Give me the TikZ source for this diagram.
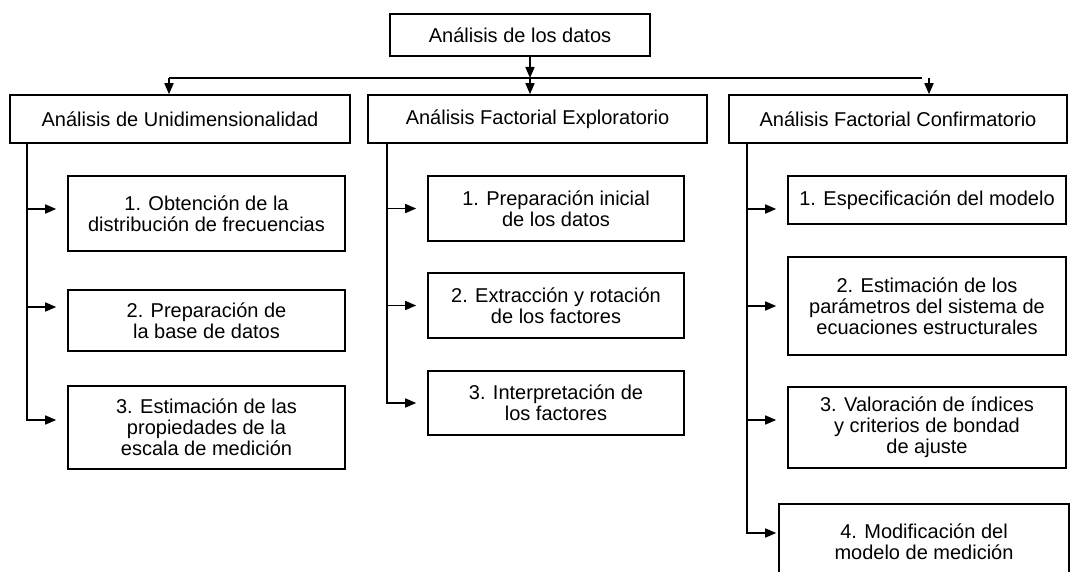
\documentclass[tikz,border=0pt]{standalone}
\usepackage{fontspec}
\setmainfont{Liberation Sans}
\usetikzlibrary{positioning}
\usetikzlibrary{arrows.meta}
\usetikzlibrary{calc}
\tikzset{>={Triangle[length=11pt,width=9pt]}}
\tikzset{caja/.style={draw, line width=1.6pt, align=center, inner sep=2pt, font=\fontsize{20}{21}\selectfont}}
\tikzset{cabeza/.style={caja, minimum height=48pt}}
\tikzset{colU/.style={caja, minimum width=277pt}}
\tikzset{colE/.style={caja, minimum width=256pt}}
\tikzset{colC/.style={caja, minimum width=278pt}}
\tikzset{flecha/.style={->, line width=1.6pt}}
\tikzset{linea/.style={line width=1.6pt}}

\begin{document}
\begin{tikzpicture}[x=1pt,y=-1pt]
        \useasboundingbox (0,0) rectangle (1071,572);

        \node[caja, minimum width=260pt, minimum height=42pt] (datos) at (520,35) {Análisis de los datos};

        \node[cabeza, minimum width=340pt] (U) at (180,119) {Análisis de Unidimensionalidad};
        \node[cabeza, minimum width=339pt] (E) at (537.5,119) {Análisis Factorial Exploratorio};
        \node[cabeza, minimum width=338pt] (C) at (898,119) {Análisis Factorial Confirmatorio};

        \coordinate (barL) at (169,78);
        \coordinate (barM) at (530,78);
        \coordinate (barR) at (922,78);

        \draw[linea] (barL) -- (barR);
        \draw[flecha] ([xshift=10pt]datos.south) -- (barM);
        \draw[flecha] (barM) -- (barM |- E.north);
        \draw[flecha] (barL) -- (barL |- U.north);
        \draw[flecha] ([xshift=7pt]barR) -- ([xshift=7pt]barR |- C.north);

        % primera columna
        \node[colU, minimum height=75pt] (U1) at (206.5,213.5) {1. Obtención de la\\distribución de frecuencias};
        \node[colU, minimum height=61pt] (U2) at (206.5,320.5) {2. Preparación de\\la base de datos};
        \node[colU, minimum height=83pt] (U3) at (206.5,427.5) {3. Estimación de las\\propiedades de la\\escala de medición};

        \coordinate (uTop) at ([xshift=18pt]U.south west);
        \draw[flecha] (uTop) |- ([xshift=-11pt,yshift=7.5pt]U3.west);
        \draw[flecha] ([yshift=4.5pt]U1.west -| uTop) -- ([xshift=-11pt,yshift=4.5pt]U1.west);
        \draw[flecha] ([yshift=13.5pt]U2.west -| uTop) -- ([xshift=-11pt,yshift=13.5pt]U2.west);

        % segunda columna
        \node[colE, minimum height=65pt] (E1) at (556,208.5) {1. Preparación inicial\\de los datos};
        \node[colE, minimum height=65pt] (E2) at (556,305.5) {2. Extracción y rotación\\de los factores};
        \node[colE, minimum height=64pt] (E3) at (556,403) {3. Interpretación de\\los factores};

        \coordinate (eTop) at ([xshift=20pt]E.south west);
        \draw[flecha] (eTop) |- ([xshift=-11pt]E3.west);
        \draw[flecha] (E1.west -| eTop) -- ([xshift=-11pt]E1.west);
        \draw[flecha] (E2.west -| eTop) -- ([xshift=-11pt]E2.west);

        % tercera columna
        \node[colC, minimum height=48pt] (C1) at (927,200) {1. Especificación del modelo};
        \node[colC, minimum height=98pt] (C2) at (927,306) {2. Estimación de los\\parámetros del sistema de\\ecuaciones estructurales};
        \node[colC, minimum height=81pt] (C3) at (927,427.5) {3. Valoración de índices\\y criterios de bondad\\de ajuste};
        \node[caja, minimum width=290pt, minimum height=76pt] (C4) at (924,542) {4. Modificación del\\modelo de medición};

        \coordinate (cTop) at ([xshift=19pt]C.south west);
        \draw[flecha] (cTop) |- ([xshift=-2pt,yshift=9pt]C4.west);
        \draw[flecha] ([yshift=-9pt]C1.west -| cTop) -- ([xshift=-11pt,yshift=-9pt]C1.west);
        \draw[flecha] (C2.west -| cTop) -- ([xshift=-11pt]C2.west);
        \draw[flecha] ([yshift=7.5pt]C3.west -| cTop) -- ([xshift=-11pt,yshift=7.5pt]C3.west);

    \end{tikzpicture}
\end{document}
